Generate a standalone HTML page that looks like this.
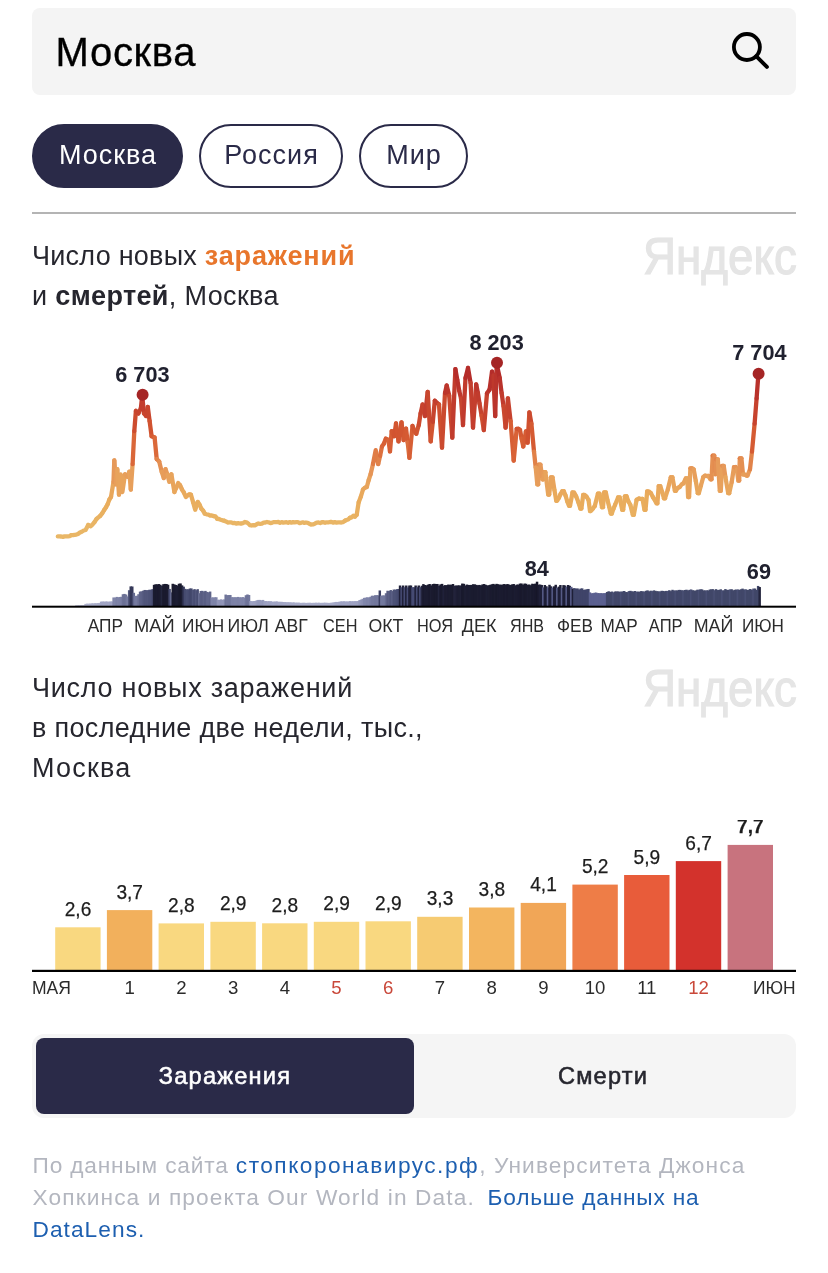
<!DOCTYPE html>
<html lang="ru"><head><meta charset="utf-8"><title>Коронавирус: Москва</title>
<style>
html,body{margin:0;padding:0;background:#fff;}
body{width:828px;height:1273px;position:relative;overflow:hidden;font-family:"Liberation Sans","DejaVu Sans",sans-serif;color:#1f2030;}
.abs{position:absolute;white-space:nowrap;}
.search{left:32px;top:8px;width:764px;height:87px;background:#f4f4f4;border-radius:8px;}
.search .q{left:23.5px;top:21px;font-size:40px;line-height:46px;color:#000;letter-spacing:0.7px;-webkit-text-stroke:0.3px #000;}
.pill{top:124px;height:59.5px;border:2px solid #2a2a48;border-radius:32px;font-size:27px;line-height:59px;text-align:center;color:#2a2a48;background:#fff;letter-spacing:1px;text-indent:1px;}
.pill.on{background:#2a2a48;color:#fff;}
.hr{left:32px;top:212px;width:764px;height:2px;background:#b4b4b4;}
.ttl{left:32px;font-size:27px;line-height:40px;color:#26262e;}
.logo{font-weight:400;color:#e5e5e5;font-size:52.3px;line-height:52px;transform-origin:0 0;transform:scaleX(0.875);-webkit-text-stroke:1.2px #e5e5e5;}
.seg{left:32px;top:1034px;width:764px;height:84px;background:#f5f5f5;border-radius:12px;}
.seg .on{left:4px;top:4px;width:378px;height:76px;background:#2a2a48;border-radius:8px;color:#fff;}
.seg .t{font-size:23.6px;line-height:76px;text-align:center;letter-spacing:1.2px;-webkit-text-stroke:0.55px currentColor;}
.foot{left:32.5px;top:1149.3px;font-size:22.7px;line-height:32px;color:#b3b6bf;letter-spacing:1.05px;}
.foot a{color:#1d5fb0;text-decoration:none;}
svg text{font-family:"Liberation Sans","DejaVu Sans",sans-serif;}
</style></head><body>
<div class="abs search"><div class="abs q">Москва</div>
<svg class="abs" style="left:688px;top:12px" width="64" height="64" viewBox="720 20 64 64"><circle cx="746.9" cy="47" r="13" fill="none" stroke="#000" stroke-width="3.8"/><path d="M756.4 56.4 L766.9 66.9" stroke="#000" stroke-width="3.9" stroke-linecap="round"/></svg>
</div>
<div class="abs pill on" style="left:32px;width:147px">Москва</div>
<div class="abs pill" style="left:199px;width:140px">Россия</div>
<div class="abs pill" style="left:359px;width:105px">Мир</div>
<div class="abs hr"></div>
<div class="abs ttl" style="top:236px"><span style="letter-spacing:0.25px">Число новых </span><b style="color:#e8762c;letter-spacing:0.85px">заражений</b><br><span style="letter-spacing:0.36px">и <b>смертей</b>, Москва</span></div>
<div class="abs logo" style="left:642.9px;top:229.5px">Яндекс</div>

<svg class="abs" style="left:0;top:320px" width="828" height="330" viewBox="0 320 828 330">
<defs><linearGradient id="lg" gradientUnits="userSpaceOnUse" x1="0" y1="362" x2="0" y2="540">
<stop offset="0" stop-color="#b02828"/><stop offset="0.12" stop-color="#b8312b"/><stop offset="0.24" stop-color="#c43f2e"/><stop offset="0.36" stop-color="#d0512f"/><stop offset="0.46" stop-color="#d96236"/><stop offset="0.53" stop-color="#e07c45"/><stop offset="0.6" stop-color="#e6975a"/><stop offset="0.72" stop-color="#e8a862"/><stop offset="0.88" stop-color="#e9b567"/><stop offset="1" stop-color="#e9b96b"/></linearGradient></defs>
<rect x="75.00" y="605.38" width="2.46" height="0.62" fill="#babdd5"/><rect x="76.56" y="605.29" width="2.46" height="0.71" fill="#b9bcd5"/><rect x="78.11" y="605.24" width="2.46" height="0.76" fill="#b9bcd5"/><rect x="79.67" y="605.15" width="2.46" height="0.85" fill="#b8bcd4"/><rect x="81.23" y="605.08" width="2.46" height="0.92" fill="#b8bbd4"/><rect x="82.78" y="605.06" width="2.46" height="0.94" fill="#b8bbd4"/><rect x="84.34" y="603.90" width="2.46" height="2.10" fill="#b0b3cf"/><rect x="85.90" y="603.63" width="2.46" height="2.37" fill="#aeb2cd"/><rect x="87.45" y="603.67" width="2.46" height="2.33" fill="#aeb2ce"/><rect x="89.01" y="603.59" width="2.46" height="2.41" fill="#aeb1cd"/><rect x="90.57" y="603.31" width="2.46" height="2.69" fill="#acb0cc"/><rect x="92.12" y="603.36" width="2.46" height="2.64" fill="#acb0cc"/><rect x="93.68" y="603.17" width="2.46" height="2.83" fill="#abafcb"/><rect x="95.24" y="603.18" width="2.46" height="2.82" fill="#abafcb"/><rect x="96.80" y="603.04" width="2.46" height="2.96" fill="#aaaecb"/><rect x="98.35" y="602.94" width="2.46" height="3.06" fill="#aaadca"/><rect x="99.91" y="601.63" width="2.46" height="4.37" fill="#a1a5c5"/><rect x="101.47" y="601.50" width="2.46" height="4.50" fill="#a0a4c4"/><rect x="103.02" y="601.63" width="2.46" height="4.37" fill="#a1a5c5"/><rect x="104.58" y="601.50" width="2.46" height="4.50" fill="#a0a4c4"/><rect x="106.14" y="601.51" width="2.46" height="4.49" fill="#a0a4c4"/><rect x="107.69" y="601.75" width="2.46" height="4.25" fill="#a2a6c5"/><rect x="109.25" y="601.42" width="2.46" height="4.58" fill="#9fa3c3"/><rect x="110.81" y="601.47" width="2.46" height="4.53" fill="#a0a4c4"/><rect x="112.36" y="597.46" width="2.46" height="8.54" fill="#8085a9"/><rect x="113.92" y="597.66" width="2.46" height="8.34" fill="#8186aa"/><rect x="115.48" y="596.90" width="2.46" height="9.10" fill="#7b80a5"/><rect x="117.03" y="597.21" width="2.46" height="8.79" fill="#7e83a7"/><rect x="118.59" y="596.96" width="2.46" height="9.04" fill="#7c81a6"/><rect x="120.15" y="596.79" width="2.46" height="9.21" fill="#7b80a5"/><rect x="121.70" y="594.25" width="2.46" height="11.75" fill="#6d7297"/><rect x="123.26" y="593.91" width="2.46" height="12.09" fill="#6b7095"/><rect x="124.82" y="594.52" width="2.46" height="11.48" fill="#6e7398"/><rect x="126.38" y="596.42" width="2.46" height="9.58" fill="#797ea3"/><rect x="127.93" y="590.22" width="2.46" height="15.78" fill="#52577c"/><rect x="129.49" y="586.38" width="2.46" height="19.62" fill="#343757"/><rect x="131.05" y="586.49" width="2.46" height="19.51" fill="#353859"/><rect x="132.60" y="592.81" width="2.46" height="13.19" fill="#656a8f"/><rect x="134.16" y="595.92" width="2.46" height="10.08" fill="#767ba0"/><rect x="135.72" y="595.77" width="2.46" height="10.23" fill="#757a9f"/><rect x="137.27" y="594.21" width="2.46" height="11.79" fill="#6d7297"/><rect x="138.83" y="591.59" width="2.46" height="14.41" fill="#5f6489"/><rect x="140.39" y="591.32" width="2.46" height="14.68" fill="#5c6186"/><rect x="141.94" y="590.70" width="2.46" height="15.30" fill="#575c81"/><rect x="143.50" y="589.96" width="2.46" height="16.04" fill="#50557a"/><rect x="145.06" y="590.12" width="2.46" height="15.88" fill="#51567b"/><rect x="146.61" y="590.15" width="2.46" height="15.85" fill="#51567b"/><rect x="148.17" y="589.74" width="2.46" height="16.26" fill="#4e5378"/><rect x="149.73" y="589.71" width="2.46" height="16.29" fill="#4d5277"/><rect x="151.28" y="589.16" width="2.46" height="16.84" fill="#484d72"/><rect x="152.84" y="584.81" width="2.46" height="21.19" fill="#1b1c30"/><rect x="154.40" y="584.26" width="2.46" height="21.74" fill="#1a1b2f"/><rect x="155.95" y="584.37" width="2.46" height="21.63" fill="#1a1b2f"/><rect x="157.51" y="584.05" width="2.46" height="21.95" fill="#1a1a2e"/><rect x="159.07" y="584.67" width="2.46" height="21.33" fill="#1b1c30"/><rect x="160.62" y="585.70" width="2.46" height="20.30" fill="#23253d"/><rect x="162.18" y="584.19" width="2.46" height="21.81" fill="#1a1b2e"/><rect x="163.74" y="583.93" width="2.46" height="22.07" fill="#191a2e"/><rect x="165.30" y="584.02" width="2.46" height="21.98" fill="#1a1a2e"/><rect x="166.85" y="584.69" width="2.46" height="21.31" fill="#1b1c30"/><rect x="168.41" y="588.94" width="2.46" height="17.06" fill="#464b70"/><rect x="169.97" y="592.40" width="2.46" height="13.60" fill="#63688d"/><rect x="171.52" y="583.79" width="2.46" height="22.21" fill="#191a2d"/><rect x="173.08" y="584.34" width="2.46" height="21.66" fill="#1a1b2f"/><rect x="174.64" y="584.96" width="2.46" height="21.04" fill="#1b1c31"/><rect x="176.19" y="585.44" width="2.46" height="20.56" fill="#1d1e33"/><rect x="177.75" y="583.74" width="2.46" height="22.26" fill="#191a2d"/><rect x="179.31" y="583.45" width="2.46" height="22.55" fill="#19192c"/><rect x="180.86" y="585.38" width="2.46" height="20.62" fill="#1c1d32"/><rect x="182.42" y="586.65" width="2.46" height="19.35" fill="#36395a"/><rect x="183.98" y="588.84" width="2.46" height="17.16" fill="#454a6f"/><rect x="185.53" y="589.38" width="2.46" height="16.62" fill="#4a4f74"/><rect x="187.09" y="589.23" width="2.46" height="16.77" fill="#494e73"/><rect x="188.65" y="588.51" width="2.46" height="17.49" fill="#42476c"/><rect x="190.20" y="588.44" width="2.46" height="17.56" fill="#42476b"/><rect x="191.76" y="589.96" width="2.46" height="16.04" fill="#50557a"/><rect x="193.32" y="589.12" width="2.46" height="16.88" fill="#484d72"/><rect x="194.88" y="590.18" width="2.46" height="15.82" fill="#52577c"/><rect x="196.43" y="589.18" width="2.46" height="16.82" fill="#484d72"/><rect x="197.99" y="593.22" width="2.46" height="12.78" fill="#676c91"/><rect x="199.55" y="590.95" width="2.46" height="15.05" fill="#595e83"/><rect x="201.10" y="590.84" width="2.46" height="15.16" fill="#585d82"/><rect x="202.66" y="591.56" width="2.46" height="14.44" fill="#5e6388"/><rect x="204.22" y="590.88" width="2.46" height="15.12" fill="#585d82"/><rect x="205.77" y="591.90" width="2.46" height="14.10" fill="#60658a"/><rect x="207.33" y="592.27" width="2.46" height="13.73" fill="#62678c"/><rect x="208.89" y="591.55" width="2.46" height="14.45" fill="#5e6388"/><rect x="210.44" y="597.47" width="2.46" height="8.53" fill="#8085a9"/><rect x="212.00" y="597.42" width="2.46" height="8.58" fill="#7f84a9"/><rect x="213.56" y="597.32" width="2.46" height="8.68" fill="#7f84a8"/><rect x="215.11" y="597.24" width="2.46" height="8.76" fill="#7e83a8"/><rect x="216.67" y="599.73" width="2.46" height="6.27" fill="#9296b8"/><rect x="218.23" y="599.84" width="2.46" height="6.16" fill="#9397b9"/><rect x="219.78" y="599.35" width="2.46" height="6.65" fill="#8f93b6"/><rect x="221.34" y="599.75" width="2.46" height="6.25" fill="#9296b8"/><rect x="222.90" y="599.39" width="2.46" height="6.61" fill="#8f94b6"/><rect x="224.45" y="594.56" width="2.46" height="11.44" fill="#6f7499"/><rect x="226.01" y="595.13" width="2.46" height="10.87" fill="#72779c"/><rect x="227.57" y="595.04" width="2.46" height="10.96" fill="#71769b"/><rect x="229.12" y="594.98" width="2.46" height="11.02" fill="#71769b"/><rect x="230.68" y="597.17" width="2.46" height="8.83" fill="#7d82a7"/><rect x="232.24" y="597.22" width="2.46" height="8.78" fill="#7e83a7"/><rect x="233.80" y="597.25" width="2.46" height="8.75" fill="#7e83a8"/><rect x="235.35" y="597.20" width="2.46" height="8.80" fill="#7e83a7"/><rect x="236.91" y="596.92" width="2.46" height="9.08" fill="#7c81a6"/><rect x="238.47" y="597.29" width="2.46" height="8.71" fill="#7e83a8"/><rect x="240.02" y="597.36" width="2.46" height="8.64" fill="#7f84a8"/><rect x="241.58" y="597.11" width="2.46" height="8.89" fill="#7d82a7"/><rect x="243.14" y="597.53" width="2.46" height="8.47" fill="#8085aa"/><rect x="244.69" y="595.22" width="2.46" height="10.78" fill="#72779c"/><rect x="246.25" y="594.47" width="2.46" height="11.53" fill="#6e7398"/><rect x="247.81" y="594.98" width="2.46" height="11.02" fill="#71769b"/><rect x="249.36" y="600.98" width="2.46" height="5.02" fill="#9ca0c1"/><rect x="250.92" y="601.24" width="2.46" height="4.76" fill="#9ea2c2"/><rect x="252.48" y="601.04" width="2.46" height="4.96" fill="#9ca0c1"/><rect x="254.03" y="600.96" width="2.46" height="5.04" fill="#9ca0c0"/><rect x="255.59" y="600.29" width="2.46" height="5.71" fill="#969bbc"/><rect x="257.15" y="599.93" width="2.46" height="6.07" fill="#9398ba"/><rect x="258.70" y="599.92" width="2.46" height="6.08" fill="#9398b9"/><rect x="260.26" y="600.26" width="2.46" height="5.74" fill="#969abc"/><rect x="261.82" y="599.92" width="2.46" height="6.08" fill="#9398b9"/><rect x="263.38" y="601.05" width="2.46" height="4.95" fill="#9ca1c1"/><rect x="264.93" y="601.02" width="2.46" height="4.98" fill="#9ca0c1"/><rect x="266.49" y="601.25" width="2.46" height="4.75" fill="#9ea2c2"/><rect x="268.05" y="601.15" width="2.46" height="4.85" fill="#9da1c2"/><rect x="269.60" y="601.21" width="2.46" height="4.79" fill="#9ea2c2"/><rect x="271.16" y="601.62" width="2.46" height="4.38" fill="#a1a5c5"/><rect x="272.72" y="601.67" width="2.46" height="4.33" fill="#a1a5c5"/><rect x="274.27" y="601.47" width="2.46" height="4.53" fill="#a0a4c4"/><rect x="275.83" y="601.43" width="2.46" height="4.57" fill="#9fa3c4"/><rect x="277.39" y="601.82" width="2.46" height="4.18" fill="#a2a6c5"/><rect x="278.94" y="601.80" width="2.46" height="4.20" fill="#a2a6c5"/><rect x="280.50" y="601.83" width="2.46" height="4.17" fill="#a2a6c5"/><rect x="282.06" y="602.01" width="2.46" height="3.99" fill="#a3a7c6"/><rect x="283.61" y="602.07" width="2.46" height="3.93" fill="#a4a8c7"/><rect x="285.17" y="602.17" width="2.46" height="3.83" fill="#a4a8c7"/><rect x="286.73" y="602.23" width="2.46" height="3.77" fill="#a5a9c7"/><rect x="288.28" y="602.22" width="2.46" height="3.78" fill="#a5a9c7"/><rect x="289.84" y="602.40" width="2.46" height="3.60" fill="#a6aac8"/><rect x="291.40" y="602.45" width="2.46" height="3.55" fill="#a6aac8"/><rect x="292.95" y="602.39" width="2.46" height="3.61" fill="#a6aac8"/><rect x="294.51" y="602.73" width="2.46" height="3.27" fill="#a8acc9"/><rect x="296.07" y="602.62" width="2.46" height="3.38" fill="#a7abc9"/><rect x="297.62" y="602.64" width="2.46" height="3.36" fill="#a8abc9"/><rect x="299.18" y="602.86" width="2.46" height="3.14" fill="#a9adca"/><rect x="300.74" y="602.89" width="2.46" height="3.11" fill="#a9adca"/><rect x="302.30" y="602.70" width="2.46" height="3.30" fill="#a8acc9"/><rect x="303.85" y="602.88" width="2.46" height="3.12" fill="#a9adca"/><rect x="305.41" y="602.90" width="2.46" height="3.10" fill="#a9adca"/><rect x="306.97" y="602.82" width="2.46" height="3.18" fill="#a9adca"/><rect x="308.52" y="602.74" width="2.46" height="3.26" fill="#a8acc9"/><rect x="310.08" y="602.93" width="2.46" height="3.07" fill="#aaadca"/><rect x="311.64" y="602.86" width="2.46" height="3.14" fill="#a9adca"/><rect x="313.19" y="602.85" width="2.46" height="3.15" fill="#a9adca"/><rect x="314.75" y="602.69" width="2.46" height="3.31" fill="#a8acc9"/><rect x="316.31" y="602.82" width="2.46" height="3.18" fill="#a9adca"/><rect x="317.86" y="602.69" width="2.46" height="3.31" fill="#a8acc9"/><rect x="319.42" y="602.91" width="2.46" height="3.09" fill="#a9adca"/><rect x="320.98" y="602.85" width="2.46" height="3.15" fill="#a9adca"/><rect x="322.53" y="602.75" width="2.46" height="3.25" fill="#a8acca"/><rect x="324.09" y="602.68" width="2.46" height="3.32" fill="#a8acc9"/><rect x="325.65" y="602.82" width="2.46" height="3.18" fill="#a9acca"/><rect x="327.20" y="602.89" width="2.46" height="3.11" fill="#a9adca"/><rect x="328.76" y="602.92" width="2.46" height="3.08" fill="#a9adca"/><rect x="330.32" y="602.65" width="2.46" height="3.35" fill="#a8abc9"/><rect x="331.88" y="602.56" width="2.46" height="3.44" fill="#a7abc9"/><rect x="333.43" y="602.14" width="2.46" height="3.86" fill="#a4a8c7"/><rect x="334.99" y="601.92" width="2.46" height="4.08" fill="#a3a7c6"/><rect x="336.55" y="601.98" width="2.46" height="4.02" fill="#a3a7c6"/><rect x="338.10" y="601.74" width="2.46" height="4.26" fill="#a2a6c5"/><rect x="339.66" y="601.35" width="2.46" height="4.65" fill="#9fa3c3"/><rect x="341.22" y="601.38" width="2.46" height="4.62" fill="#9fa3c3"/><rect x="342.77" y="601.26" width="2.46" height="4.74" fill="#9ea2c2"/><rect x="344.33" y="601.43" width="2.46" height="4.57" fill="#9fa3c4"/><rect x="345.89" y="601.49" width="2.46" height="4.51" fill="#a0a4c4"/><rect x="347.44" y="601.37" width="2.46" height="4.63" fill="#9fa3c3"/><rect x="349.00" y="601.09" width="2.46" height="4.91" fill="#9da1c1"/><rect x="350.56" y="601.30" width="2.46" height="4.70" fill="#9ea2c3"/><rect x="352.11" y="601.22" width="2.46" height="4.78" fill="#9ea2c2"/><rect x="353.67" y="601.14" width="2.46" height="4.86" fill="#9da1c2"/><rect x="355.23" y="601.10" width="2.46" height="4.90" fill="#9da1c1"/><rect x="356.78" y="601.06" width="2.46" height="4.94" fill="#9ca1c1"/><rect x="358.34" y="600.06" width="2.46" height="5.94" fill="#9499ba"/><rect x="359.90" y="599.56" width="2.46" height="6.44" fill="#9095b7"/><rect x="361.45" y="598.83" width="2.46" height="7.17" fill="#8b8fb2"/><rect x="363.01" y="597.86" width="2.46" height="8.14" fill="#8388ac"/><rect x="364.57" y="597.64" width="2.46" height="8.36" fill="#8186aa"/><rect x="366.12" y="597.28" width="2.46" height="8.72" fill="#7e83a8"/><rect x="367.68" y="597.48" width="2.46" height="8.52" fill="#8085a9"/><rect x="369.24" y="596.77" width="2.46" height="9.23" fill="#7b80a5"/><rect x="370.80" y="595.72" width="2.46" height="10.28" fill="#757a9f"/><rect x="372.35" y="595.79" width="2.46" height="10.21" fill="#757a9f"/><rect x="373.91" y="595.24" width="2.46" height="10.76" fill="#72779c"/><rect x="375.47" y="595.15" width="2.46" height="10.85" fill="#72779c"/><rect x="377.02" y="595.33" width="2.46" height="10.67" fill="#73789d"/><rect x="378.58" y="590.47" width="2.46" height="15.53" fill="#3c4064"/><rect x="380.14" y="595.66" width="2.46" height="10.34" fill="#757a9f"/><rect x="381.69" y="595.44" width="2.46" height="10.56" fill="#73789d"/><rect x="383.25" y="595.40" width="2.46" height="10.60" fill="#73789d"/><rect x="384.81" y="593.24" width="2.46" height="12.76" fill="#676c91"/><rect x="386.36" y="590.74" width="2.46" height="15.26" fill="#575c81"/><rect x="387.92" y="591.03" width="2.46" height="14.97" fill="#5a5f84"/><rect x="389.48" y="590.06" width="2.46" height="15.94" fill="#51567b"/><rect x="391.03" y="591.08" width="2.46" height="14.92" fill="#5a5f84"/><rect x="392.59" y="589.56" width="2.46" height="16.44" fill="#4c5176"/><rect x="394.15" y="589.72" width="2.46" height="16.28" fill="#4d5277"/><rect x="395.70" y="589.18" width="2.46" height="16.82" fill="#484d72"/><rect x="397.26" y="588.96" width="2.46" height="17.04" fill="#464b70"/><rect x="398.82" y="585.50" width="2.46" height="20.50" fill="#1f2038"/><rect x="400.38" y="587.24" width="2.46" height="18.76" fill="#454a72"/><rect x="401.93" y="585.50" width="2.46" height="20.50" fill="#1f2038"/><rect x="403.49" y="587.20" width="2.46" height="18.80" fill="#454a72"/><rect x="405.05" y="585.50" width="2.46" height="20.50" fill="#1f2038"/><rect x="406.60" y="587.42" width="2.46" height="18.58" fill="#454a72"/><rect x="408.16" y="585.50" width="2.46" height="20.50" fill="#1f2038"/><rect x="409.72" y="585.50" width="2.46" height="20.50" fill="#1f2038"/><rect x="411.27" y="587.20" width="2.46" height="18.80" fill="#454a72"/><rect x="412.83" y="587.20" width="2.46" height="18.80" fill="#454a72"/><rect x="414.39" y="585.50" width="2.46" height="20.50" fill="#1f2038"/><rect x="415.94" y="587.20" width="2.46" height="18.80" fill="#454a72"/><rect x="417.50" y="585.50" width="2.46" height="20.50" fill="#1f2038"/><rect x="419.06" y="587.20" width="2.46" height="18.80" fill="#454a72"/><rect x="420.61" y="585.72" width="2.46" height="20.28" fill="#24253e"/><rect x="422.17" y="584.10" width="2.46" height="21.90" fill="#1a1a2e"/><rect x="423.73" y="585.01" width="2.46" height="20.99" fill="#1b1c31"/><rect x="425.28" y="585.33" width="2.46" height="20.67" fill="#1c1d32"/><rect x="426.84" y="584.61" width="2.46" height="21.39" fill="#1b1b30"/><rect x="428.40" y="584.00" width="2.46" height="22.00" fill="#1a1a2e"/><rect x="429.95" y="585.38" width="2.46" height="20.62" fill="#1c1d32"/><rect x="431.51" y="584.05" width="2.46" height="21.95" fill="#1a1a2e"/><rect x="433.07" y="583.77" width="2.46" height="22.23" fill="#191a2d"/><rect x="434.62" y="584.01" width="2.46" height="21.99" fill="#1a1a2e"/><rect x="436.18" y="583.97" width="2.46" height="22.03" fill="#191a2e"/><rect x="437.74" y="585.70" width="2.46" height="20.30" fill="#23253e"/><rect x="439.30" y="584.37" width="2.46" height="21.63" fill="#1a1b2f"/><rect x="440.85" y="583.87" width="2.46" height="22.13" fill="#191a2e"/><rect x="442.41" y="585.60" width="2.46" height="20.40" fill="#21223a"/><rect x="443.97" y="585.12" width="2.46" height="20.88" fill="#1c1c31"/><rect x="445.52" y="585.13" width="2.46" height="20.87" fill="#1c1c31"/><rect x="447.08" y="584.57" width="2.46" height="21.43" fill="#1b1b30"/><rect x="448.64" y="584.79" width="2.46" height="21.21" fill="#1b1c30"/><rect x="450.19" y="584.68" width="2.46" height="21.32" fill="#1b1c30"/><rect x="451.75" y="584.02" width="2.46" height="21.98" fill="#1a1a2e"/><rect x="453.31" y="585.68" width="2.46" height="20.32" fill="#23243c"/><rect x="454.86" y="585.56" width="2.46" height="20.44" fill="#202138"/><rect x="456.42" y="585.40" width="2.46" height="20.60" fill="#1c1d32"/><rect x="457.98" y="585.40" width="2.46" height="20.60" fill="#1c1d32"/><rect x="459.53" y="585.52" width="2.46" height="20.48" fill="#1f2036"/><rect x="461.09" y="583.57" width="2.46" height="22.43" fill="#19192d"/><rect x="462.65" y="583.82" width="2.46" height="22.18" fill="#191a2d"/><rect x="464.20" y="585.47" width="2.46" height="20.53" fill="#1e1f35"/><rect x="465.76" y="584.57" width="2.46" height="21.43" fill="#1b1b30"/><rect x="467.32" y="584.97" width="2.46" height="21.03" fill="#1b1c31"/><rect x="468.88" y="584.96" width="2.46" height="21.04" fill="#1b1c31"/><rect x="470.43" y="584.88" width="2.46" height="21.12" fill="#1b1c30"/><rect x="471.99" y="584.24" width="2.46" height="21.76" fill="#1a1b2f"/><rect x="473.55" y="584.37" width="2.46" height="21.63" fill="#1a1b2f"/><rect x="475.10" y="584.85" width="2.46" height="21.15" fill="#1b1c30"/><rect x="476.66" y="585.21" width="2.46" height="20.79" fill="#1c1d31"/><rect x="478.22" y="584.91" width="2.46" height="21.09" fill="#1b1c31"/><rect x="479.77" y="585.34" width="2.46" height="20.66" fill="#1c1d32"/><rect x="481.33" y="584.41" width="2.46" height="21.59" fill="#1a1b2f"/><rect x="482.89" y="584.06" width="2.46" height="21.94" fill="#1a1a2e"/><rect x="484.44" y="584.78" width="2.46" height="21.22" fill="#1b1c30"/><rect x="486.00" y="585.42" width="2.46" height="20.58" fill="#1c1e33"/><rect x="487.56" y="585.20" width="2.46" height="20.80" fill="#1c1d31"/><rect x="489.11" y="584.78" width="2.46" height="21.22" fill="#1b1c30"/><rect x="490.67" y="584.28" width="2.46" height="21.72" fill="#1a1b2f"/><rect x="492.23" y="583.89" width="2.46" height="22.11" fill="#191a2e"/><rect x="493.78" y="584.75" width="2.46" height="21.25" fill="#1b1c30"/><rect x="495.34" y="583.84" width="2.46" height="22.16" fill="#191a2d"/><rect x="496.90" y="584.22" width="2.46" height="21.78" fill="#1a1b2f"/><rect x="498.45" y="584.63" width="2.46" height="21.37" fill="#1b1b30"/><rect x="500.01" y="584.75" width="2.46" height="21.25" fill="#1b1c30"/><rect x="501.57" y="584.48" width="2.46" height="21.52" fill="#1a1b2f"/><rect x="503.12" y="584.03" width="2.46" height="21.97" fill="#1a1a2e"/><rect x="504.68" y="584.64" width="2.46" height="21.36" fill="#1b1b30"/><rect x="506.24" y="584.04" width="2.46" height="21.96" fill="#1a1a2e"/><rect x="507.80" y="584.54" width="2.46" height="21.46" fill="#1a1b2f"/><rect x="509.35" y="585.00" width="2.46" height="21.00" fill="#1b1c31"/><rect x="510.91" y="584.37" width="2.46" height="21.63" fill="#1a1b2f"/><rect x="512.47" y="584.02" width="2.46" height="21.98" fill="#1a1a2e"/><rect x="514.02" y="585.36" width="2.46" height="20.64" fill="#1c1d32"/><rect x="515.58" y="584.60" width="2.46" height="21.40" fill="#1b1b30"/><rect x="517.14" y="584.59" width="2.46" height="21.41" fill="#1b1b30"/><rect x="518.69" y="583.61" width="2.46" height="22.39" fill="#19192d"/><rect x="520.25" y="583.48" width="2.46" height="22.52" fill="#19192c"/><rect x="521.81" y="584.69" width="2.46" height="21.31" fill="#1b1c30"/><rect x="523.36" y="583.55" width="2.46" height="22.45" fill="#19192d"/><rect x="524.92" y="583.78" width="2.46" height="22.22" fill="#191a2d"/><rect x="526.48" y="584.92" width="2.46" height="21.08" fill="#1b1c31"/><rect x="528.03" y="584.48" width="2.46" height="21.52" fill="#1a1b2f"/><rect x="529.59" y="585.21" width="2.46" height="20.79" fill="#1c1d31"/><rect x="531.15" y="583.72" width="2.46" height="22.28" fill="#191a2d"/><rect x="532.70" y="584.05" width="2.46" height="21.95" fill="#1a1a2e"/><rect x="534.26" y="583.56" width="2.46" height="22.44" fill="#19192d"/><rect x="535.82" y="581.71" width="2.46" height="24.29" fill="#161628"/><rect x="537.38" y="584.65" width="2.46" height="21.35" fill="#1b1b30"/><rect x="538.93" y="584.56" width="2.46" height="21.44" fill="#1e1f37"/><rect x="540.49" y="584.97" width="2.46" height="21.03" fill="#1e1f37"/><rect x="542.05" y="587.38" width="2.46" height="18.62" fill="#565b86"/><rect x="543.60" y="585.02" width="2.46" height="20.98" fill="#1e1f37"/><rect x="545.16" y="586.28" width="2.46" height="19.72" fill="#1e1f37"/><rect x="546.72" y="587.44" width="2.46" height="18.56" fill="#565b86"/><rect x="548.27" y="584.79" width="2.46" height="21.21" fill="#1e1f37"/><rect x="549.83" y="586.34" width="2.46" height="19.66" fill="#1e1f37"/><rect x="551.39" y="587.67" width="2.46" height="18.33" fill="#565b86"/><rect x="552.94" y="586.32" width="2.46" height="19.68" fill="#1e1f37"/><rect x="554.50" y="584.77" width="2.46" height="21.23" fill="#1e1f37"/><rect x="556.06" y="587.64" width="2.46" height="18.36" fill="#565b86"/><rect x="557.61" y="586.62" width="2.46" height="19.38" fill="#1e1f37"/><rect x="559.17" y="585.01" width="2.46" height="20.99" fill="#1e1f37"/><rect x="560.73" y="587.87" width="2.46" height="18.13" fill="#565b86"/><rect x="562.28" y="585.09" width="2.46" height="20.91" fill="#1e1f37"/><rect x="563.84" y="585.48" width="2.46" height="20.52" fill="#1e1f37"/><rect x="565.40" y="586.65" width="2.46" height="19.35" fill="#565b86"/><rect x="566.95" y="585.00" width="2.46" height="21.00" fill="#1e1f37"/><rect x="568.51" y="585.79" width="2.46" height="20.21" fill="#1e1f37"/><rect x="570.07" y="586.84" width="2.46" height="19.16" fill="#565b86"/><rect x="571.62" y="588.60" width="2.46" height="17.40" fill="#1e1f37"/><rect x="573.18" y="588.10" width="2.46" height="17.90" fill="#3f4469"/><rect x="574.74" y="588.66" width="2.46" height="17.34" fill="#3f4469"/><rect x="576.30" y="588.42" width="2.46" height="17.58" fill="#3f4469"/><rect x="577.85" y="589.57" width="2.46" height="16.43" fill="#3f4469"/><rect x="579.41" y="588.59" width="2.46" height="17.41" fill="#3f4469"/><rect x="580.97" y="588.38" width="2.46" height="17.62" fill="#3f4469"/><rect x="582.52" y="589.94" width="2.46" height="16.06" fill="#3f4469"/><rect x="584.08" y="589.60" width="2.46" height="16.40" fill="#3f4469"/><rect x="585.64" y="589.29" width="2.46" height="16.71" fill="#3f4469"/><rect x="587.19" y="588.96" width="2.46" height="17.04" fill="#3f4469"/><rect x="588.75" y="592.38" width="2.46" height="13.62" fill="#5b6090"/><rect x="590.31" y="593.25" width="2.46" height="12.75" fill="#5b6090"/><rect x="591.86" y="593.19" width="2.46" height="12.81" fill="#5b6090"/><rect x="593.42" y="592.74" width="2.46" height="13.26" fill="#5b6090"/><rect x="594.98" y="592.59" width="2.46" height="13.41" fill="#5b6090"/><rect x="596.53" y="593.10" width="2.46" height="12.90" fill="#5b6090"/><rect x="598.09" y="593.16" width="2.46" height="12.84" fill="#5b6090"/><rect x="599.65" y="593.16" width="2.46" height="12.84" fill="#5b6090"/><rect x="601.20" y="593.25" width="2.46" height="12.75" fill="#5b6090"/><rect x="602.76" y="593.20" width="2.46" height="12.80" fill="#5b6090"/><rect x="604.32" y="593.06" width="2.46" height="12.94" fill="#5b6090"/><rect x="605.88" y="591.98" width="2.46" height="14.02" fill="#414769"/><rect x="607.43" y="591.28" width="2.46" height="14.72" fill="#414769"/><rect x="608.99" y="592.03" width="2.46" height="13.97" fill="#414769"/><rect x="610.55" y="591.53" width="2.46" height="14.47" fill="#414769"/><rect x="612.10" y="592.32" width="2.46" height="13.68" fill="#494f74"/><rect x="613.66" y="591.53" width="2.46" height="14.47" fill="#414769"/><rect x="615.22" y="591.40" width="2.46" height="14.60" fill="#414769"/><rect x="616.77" y="591.48" width="2.46" height="14.52" fill="#414769"/><rect x="618.33" y="591.67" width="2.46" height="14.33" fill="#414769"/><rect x="619.89" y="591.68" width="2.46" height="14.32" fill="#494f74"/><rect x="621.44" y="591.41" width="2.46" height="14.59" fill="#414769"/><rect x="623.00" y="591.01" width="2.46" height="14.99" fill="#414769"/><rect x="624.56" y="592.05" width="2.46" height="13.95" fill="#414769"/><rect x="626.11" y="592.09" width="2.46" height="13.91" fill="#414769"/><rect x="627.67" y="591.11" width="2.46" height="14.89" fill="#494f74"/><rect x="629.23" y="590.83" width="2.46" height="15.17" fill="#414769"/><rect x="630.78" y="591.37" width="2.46" height="14.63" fill="#414769"/><rect x="632.34" y="591.45" width="2.46" height="14.55" fill="#414769"/><rect x="633.90" y="591.00" width="2.46" height="15.00" fill="#414769"/><rect x="635.45" y="591.75" width="2.46" height="14.25" fill="#494f74"/><rect x="637.01" y="591.60" width="2.46" height="14.40" fill="#414769"/><rect x="638.57" y="591.66" width="2.46" height="14.34" fill="#414769"/><rect x="640.12" y="591.06" width="2.46" height="14.94" fill="#414769"/><rect x="641.68" y="591.43" width="2.46" height="14.57" fill="#414769"/><rect x="643.24" y="591.52" width="2.46" height="14.48" fill="#494f74"/><rect x="644.80" y="590.80" width="2.46" height="15.20" fill="#414769"/><rect x="646.35" y="590.38" width="2.46" height="15.62" fill="#414769"/><rect x="647.91" y="591.33" width="2.46" height="14.67" fill="#414769"/><rect x="649.47" y="590.69" width="2.46" height="15.31" fill="#414769"/><rect x="651.02" y="591.09" width="2.46" height="14.91" fill="#494f74"/><rect x="652.58" y="590.40" width="2.46" height="15.60" fill="#414769"/><rect x="654.14" y="590.77" width="2.46" height="15.23" fill="#414769"/><rect x="655.69" y="591.22" width="2.46" height="14.78" fill="#414769"/><rect x="657.25" y="591.27" width="2.46" height="14.73" fill="#414769"/><rect x="658.81" y="591.53" width="2.46" height="14.47" fill="#494f74"/><rect x="660.36" y="590.81" width="2.46" height="15.19" fill="#414769"/><rect x="661.92" y="590.92" width="2.46" height="15.08" fill="#414769"/><rect x="663.48" y="591.22" width="2.46" height="14.78" fill="#414769"/><rect x="665.03" y="590.90" width="2.46" height="15.10" fill="#414769"/><rect x="666.59" y="590.93" width="2.46" height="15.07" fill="#494f74"/><rect x="668.15" y="590.20" width="2.46" height="15.80" fill="#414769"/><rect x="669.70" y="591.14" width="2.46" height="14.86" fill="#414769"/><rect x="671.26" y="589.80" width="2.46" height="16.20" fill="#414769"/><rect x="672.82" y="590.56" width="2.46" height="15.44" fill="#414769"/><rect x="674.38" y="590.34" width="2.46" height="15.66" fill="#494f74"/><rect x="675.93" y="590.52" width="2.46" height="15.48" fill="#414769"/><rect x="677.49" y="589.91" width="2.46" height="16.09" fill="#414769"/><rect x="679.05" y="589.90" width="2.46" height="16.10" fill="#414769"/><rect x="680.60" y="590.28" width="2.46" height="15.72" fill="#414769"/><rect x="682.16" y="590.37" width="2.46" height="15.63" fill="#494f74"/><rect x="683.72" y="589.96" width="2.46" height="16.04" fill="#414769"/><rect x="685.27" y="589.72" width="2.46" height="16.28" fill="#414769"/><rect x="686.83" y="590.40" width="2.46" height="15.60" fill="#414769"/><rect x="688.39" y="589.85" width="2.46" height="16.15" fill="#414769"/><rect x="689.94" y="589.46" width="2.46" height="16.54" fill="#494f74"/><rect x="691.50" y="590.21" width="2.46" height="15.79" fill="#414769"/><rect x="693.06" y="590.55" width="2.46" height="15.45" fill="#414769"/><rect x="694.61" y="590.51" width="2.46" height="15.49" fill="#414769"/><rect x="696.17" y="589.71" width="2.46" height="16.29" fill="#414769"/><rect x="697.73" y="589.75" width="2.46" height="16.25" fill="#494f74"/><rect x="699.28" y="589.27" width="2.46" height="16.73" fill="#414769"/><rect x="700.84" y="589.41" width="2.46" height="16.59" fill="#414769"/><rect x="702.40" y="590.37" width="2.46" height="15.63" fill="#414769"/><rect x="703.95" y="590.43" width="2.46" height="15.57" fill="#414769"/><rect x="705.51" y="590.29" width="2.46" height="15.71" fill="#494f74"/><rect x="707.07" y="590.39" width="2.46" height="15.61" fill="#414769"/><rect x="708.62" y="589.53" width="2.46" height="16.47" fill="#414769"/><rect x="710.18" y="589.26" width="2.46" height="16.74" fill="#414769"/><rect x="711.74" y="589.17" width="2.46" height="16.83" fill="#414769"/><rect x="713.30" y="590.19" width="2.46" height="15.81" fill="#494f74"/><rect x="714.85" y="589.17" width="2.46" height="16.83" fill="#414769"/><rect x="716.41" y="590.05" width="2.46" height="15.95" fill="#414769"/><rect x="717.97" y="589.84" width="2.46" height="16.16" fill="#414769"/><rect x="719.52" y="589.32" width="2.46" height="16.68" fill="#414769"/><rect x="721.08" y="590.35" width="2.46" height="15.65" fill="#494f74"/><rect x="722.64" y="590.31" width="2.46" height="15.69" fill="#414769"/><rect x="724.19" y="589.08" width="2.46" height="16.92" fill="#414769"/><rect x="725.75" y="589.94" width="2.46" height="16.06" fill="#414769"/><rect x="727.31" y="589.81" width="2.46" height="16.19" fill="#414769"/><rect x="728.86" y="589.42" width="2.46" height="16.58" fill="#494f74"/><rect x="730.42" y="589.24" width="2.46" height="16.76" fill="#414769"/><rect x="731.98" y="590.32" width="2.46" height="15.68" fill="#414769"/><rect x="733.53" y="589.76" width="2.46" height="16.24" fill="#414769"/><rect x="735.09" y="589.57" width="2.46" height="16.43" fill="#414769"/><rect x="736.65" y="589.46" width="2.46" height="16.54" fill="#494f74"/><rect x="738.20" y="589.90" width="2.46" height="16.10" fill="#414769"/><rect x="739.76" y="589.25" width="2.46" height="16.75" fill="#414769"/><rect x="741.32" y="588.62" width="2.46" height="17.38" fill="#414769"/><rect x="742.88" y="589.54" width="2.46" height="16.46" fill="#414769"/><rect x="744.43" y="589.26" width="2.46" height="16.74" fill="#494f74"/><rect x="745.99" y="589.96" width="2.46" height="16.04" fill="#414769"/><rect x="747.55" y="589.68" width="2.46" height="16.32" fill="#414769"/><rect x="749.10" y="589.01" width="2.46" height="16.99" fill="#414769"/><rect x="750.66" y="589.91" width="2.46" height="16.09" fill="#414769"/><rect x="752.22" y="588.60" width="2.46" height="17.40" fill="#494f74"/><rect x="753.77" y="588.54" width="2.46" height="17.46" fill="#414769"/><rect x="755.33" y="589.89" width="2.46" height="16.11" fill="#414769"/><rect x="756.89" y="585.95" width="2.46" height="20.05" fill="#414769"/><rect x="758.44" y="587.04" width="2.46" height="18.96" fill="#23243c"/>
<rect x="32" y="605.7" width="764" height="2" fill="#000"/>
<g fill="none" stroke-width="4.3" stroke-linejoin="round" stroke-linecap="round"><path d="M57.8 536.4 L59.5 536.3 L61.2 536.5 L62.9 536.9 L64.5 536.4 L66.2 536.4 L67.9 536.4 L69.6 536.1 L71.3 535.2" stroke="#e9b767"/><path d="M71.3 535.2 L73.0 535.2 L74.6 534.9 L76.3 534.6 L78.0 533.9 L79.9 532.5 L81.8 531.7 L83.7 530.5 L85.6 530.0 L88.2 525.0" stroke="#e9b666"/><path d="M88.2 525.0 L90.7 526.3 L92.6 524.4 L94.5 522.1" stroke="#e9b565"/><path d="M94.5 522.1 L96.4 519.1" stroke="#e9b464"/><path d="M96.4 519.1 L98.3 517.4 L100.2 515.9" stroke="#e9b363"/><path d="M100.2 515.9 L102.2 513.3" stroke="#e9b262"/><path d="M102.2 513.3 L104.1 510.1" stroke="#e9b161"/><path d="M104.1 510.1 L106.0 507.2" stroke="#e9af5f"/><path d="M106.0 507.2 L107.7 504.1" stroke="#e9ae5e"/><path d="M107.7 504.1 L109.3 499.6" stroke="#e9ad5d"/><path d="M109.3 499.6 L111.0 497.0" stroke="#e9ab5c"/><path d="M111.0 497.0 L113.5 481.9" stroke="#e8a75c"/><path d="M113.5 481.9 L114.3 460.3" stroke="#e69858"/><path d="M114.3 460.3 L116.0 484.4" stroke="#e69959"/><path d="M116.0 484.4 L117.3 469.2" stroke="#e89f5b"/><path d="M117.3 469.2 L119.0 494.6" stroke="#e8a35c"/><path d="M119.0 494.6 L120.6 474.3 L122.4 492.0 L125.0 474.3" stroke="#e8a45c"/><path d="M125.0 474.3 L127.5 476.8" stroke="#e79f5b"/><path d="M127.5 476.8 L129.3 471.7" stroke="#e79d5a"/><path d="M129.3 471.7 L130.8 489.5" stroke="#e8a35c"/><path d="M130.8 489.5 L132.6 464.1" stroke="#e79f5b"/><path d="M132.6 464.1 L134.3 431.2" stroke="#da6739"/><path d="M134.3 431.2 L135.9 410.9" stroke="#cd4c2f"/><path d="M135.9 410.9 L138.4 413.4" stroke="#c8452e"/><path d="M138.4 413.4 L140.9 408.3" stroke="#c7442e"/><path d="M140.9 408.3 L142.2 395.6" stroke="#c23d2e"/><path d="M142.2 395.6 L144.0 413.4" stroke="#c33e2e"/><path d="M144.0 413.4 L146.0 416.0" stroke="#ca472e"/><path d="M146.0 416.0 L147.8 407.0" stroke="#c8442e"/><path d="M147.8 407.0 L149.6 421.0" stroke="#c9462e"/><path d="M149.6 421.0 L151.6 436.2" stroke="#d15330"/><path d="M151.6 436.2 L154.6 437.5" stroke="#d65b33"/><path d="M154.6 437.5 L156.7 459.0" stroke="#db693a"/><path d="M156.7 459.0 L159.2 461.6" stroke="#e2844b"/><path d="M159.2 461.6 L161.7 471.7" stroke="#e49053"/><path d="M161.7 471.7 L163.8 478.0" stroke="#e79e5a"/><path d="M163.8 478.0 L165.5 469.2" stroke="#e79c5a"/><path d="M165.5 469.2 L167.4 474.5" stroke="#e79a59"/><path d="M167.4 474.5 L169.3 481.9 L171.4 474.3" stroke="#e8a25c"/><path d="M171.4 474.3 L174.4 492.0" stroke="#e8a45c"/><path d="M174.4 492.0 L176.3 487.6" stroke="#e9a75c"/><path d="M176.3 487.6 L178.2 483.0 L180.1 485.3" stroke="#e8a55c"/><path d="M180.1 485.3 L182.0 489.5" stroke="#e8a65c"/><path d="M182.0 489.5 L183.9 492.6" stroke="#e9a85c"/><path d="M183.9 492.6 L185.8 497.0 L187.5 495.6 L189.2 494.4" stroke="#e9aa5c"/><path d="M189.2 494.4 L190.9 494.6" stroke="#e9a95c"/><path d="M190.9 494.6 L193.1 502.1" stroke="#e9ab5c"/><path d="M193.1 502.1 L195.2 509.8 L197.8 502.0" stroke="#e9ae5e"/><path d="M197.8 502.0 L199.6 504.8" stroke="#e9ad5d"/><path d="M199.6 504.8 L201.3 508.6" stroke="#e9af5f"/><path d="M201.3 508.6 L203.1 510.7" stroke="#e9b060"/><path d="M203.1 510.7 L204.8 513.6" stroke="#e9b161"/><path d="M204.8 513.6 L206.6 514.4 L208.4 514.6 L210.1 515.5 L211.9 515.5 L213.7 516.1" stroke="#e9b262"/><path d="M213.7 516.1 L215.4 516.4 L217.2 518.8" stroke="#e9b363"/><path d="M217.2 518.8 L218.9 519.0 L220.7 519.7 L222.4 520.3 L224.2 520.7" stroke="#e9b464"/><path d="M224.2 520.7 L225.9 521.4 L227.7 522.5 L229.5 522.4 L231.2 522.3 L233.0 523.2 L234.7 523.0 L236.5 523.6 L238.2 523.2 L240.0 523.5 L241.7 523.5 L243.3 522.9 L245.0 522.0 L246.6 522.3 L248.2 523.4 L249.8 525.1 L251.4 525.5 L253.2 525.1 L254.9 525.3 L256.6 524.3 L258.4 523.5 L260.1 523.8 L261.9 523.6 L263.6 522.6 L265.4 522.5 L267.0 522.0 L268.6 522.3 L270.3 523.0 L271.9 522.8 L273.5 522.1 L275.1 522.2 L276.8 522.1 L278.4 522.0 L280.0 522.8 L281.6 522.1 L283.3 522.6 L284.9 522.4 L286.5 522.2 L288.1 522.8 L289.8 522.1 L291.4 522.7 L293.0 522.1 L294.6 522.4 L296.3 522.2 L297.9 522.2 L299.5 523.0 L301.1 522.8 L302.8 522.3 L304.4 522.9 L306.0 522.5 L307.7 522.8 L309.3 523.7 L311.0 524.5 L312.9 524.4 L314.8 523.7 L316.7 522.6 L318.6 522.5 L320.2 523.0 L321.9 522.2 L323.5 522.2 L325.1 522.8 L326.7 522.3 L328.4 522.3 L330.0 522.0 L331.6 522.0 L333.3 522.6 L334.9 522.2 L336.5 522.6 L338.1 522.4 L339.8 522.4 L341.4 522.5 L343.1 522.2 L344.8 520.8" stroke="#e9b565"/><path d="M344.8 520.8 L346.5 520.0 L348.2 519.5 L349.9 517.9" stroke="#e9b464"/><path d="M349.9 517.9 L351.6 517.4 L353.3 515.8 L355.0 516.6" stroke="#e9b363"/><path d="M355.0 516.6 L356.7 514.8" stroke="#e9b262"/><path d="M356.7 514.8 L358.7 502.2" stroke="#e9af5f"/><path d="M358.7 502.2 L360.9 496.5" stroke="#e9ac5c"/><path d="M360.9 496.5 L363.0 489.5" stroke="#e9a95c"/><path d="M363.0 489.5 L364.9 487.7" stroke="#e8a75c"/><path d="M364.9 487.7 L366.8 487.0" stroke="#e8a65c"/><path d="M366.8 487.0 L368.7 480.0" stroke="#e8a45c"/><path d="M368.7 480.0 L370.6 474.3" stroke="#e8a15b"/><path d="M370.6 474.3 L373.0 464.0" stroke="#e69557"/><path d="M373.0 464.0 L375.7 450.2 L378.2 464.0" stroke="#e07c45"/><path d="M378.2 464.0 L380.1 455.7" stroke="#e18249"/><path d="M380.1 455.7 L382.0 446.4" stroke="#dd703e"/><path d="M382.0 446.4 L383.9 443.6" stroke="#da6538"/><path d="M383.9 443.6 L385.8 438.8" stroke="#d86035"/><path d="M385.8 438.8 L388.4 440.0" stroke="#d75e34"/><path d="M388.4 440.0 L390.0 451.4" stroke="#da6538"/><path d="M390.0 451.4 L391.7 431.2" stroke="#d75f35"/><path d="M391.7 431.2 L394.2 436.2" stroke="#d45832"/><path d="M394.2 436.2 L396.0 423.5" stroke="#d25430"/><path d="M396.0 423.5 L398.5 441.3" stroke="#d35631"/><path d="M398.5 441.3 L401.5 422.3" stroke="#d25631"/><path d="M401.5 422.3 L403.6 440.0" stroke="#d25531"/><path d="M403.6 440.0 L406.0 428.6" stroke="#d45932"/><path d="M406.0 428.6 L407.7 442.5" stroke="#d55a33"/><path d="M407.7 442.5 L409.4 457.8" stroke="#dc6e3d"/><path d="M409.4 457.8 L412.5 426.0" stroke="#d75f35"/><path d="M412.5 426.0 L414.4 430.8" stroke="#d15330"/><path d="M414.4 430.8 L416.3 433.7" stroke="#d35731"/><path d="M416.3 433.7 L418.8 424.8" stroke="#d15430"/><path d="M418.8 424.8 L420.6 413.4" stroke="#cc4b2f"/><path d="M420.6 413.4 L422.6 404.5" stroke="#c6422e"/><path d="M422.6 404.5 L425.0 416.0" stroke="#c7432e"/><path d="M425.0 416.0 L427.7 391.8" stroke="#c33e2e"/><path d="M427.7 391.8 L430.7 441.3" stroke="#c9472e"/><path d="M430.7 441.3 L432.8 421.8" stroke="#d25531"/><path d="M432.8 421.8 L434.8 400.7" stroke="#c7442e"/><path d="M434.8 400.7 L436.9 402.8" stroke="#c23d2e"/><path d="M436.9 402.8 L439.0 404.5" stroke="#c33e2e"/><path d="M439.0 404.5 L442.0 447.6" stroke="#cf4f2f"/><path d="M442.0 447.6 L445.0 393.0" stroke="#cb4a2f"/><path d="M445.0 393.0 L446.7 385.5" stroke="#bb352c"/><path d="M446.7 385.5 L449.2 395.6" stroke="#bc362c"/><path d="M449.2 395.6 L452.3 437.6" stroke="#ca472e"/><path d="M452.3 437.6 L455.4 369.2" stroke="#c13c2d"/><path d="M455.4 369.2 L457.3 379.8" stroke="#b52d2a"/><path d="M457.3 379.8 L459.2 390.7" stroke="#b9322b"/><path d="M459.2 390.7 L461.0 398.3" stroke="#be382d"/><path d="M461.0 398.3 L463.0 425.0" stroke="#c7442e"/><path d="M463.0 425.0 L465.5 378.0" stroke="#c13b2d"/><path d="M465.5 378.0 L468.0 367.9" stroke="#b42c29"/><path d="M468.0 367.9 L470.6 383.0" stroke="#b52d2a"/><path d="M470.6 383.0 L473.0 427.5" stroke="#c33e2e"/><path d="M473.0 427.5 L476.2 384.4" stroke="#c43e2e"/><path d="M476.2 384.4 L477.9 393.0" stroke="#bb342c"/><path d="M477.9 393.0 L479.5 403.4" stroke="#c03b2d"/><path d="M479.5 403.4 L481.6 415.7" stroke="#c6432e"/><path d="M481.6 415.7 L483.8 430.0" stroke="#ce4e2f"/><path d="M483.8 430.0 L487.0 393.3" stroke="#c7432e"/><path d="M487.0 393.3 L489.6 389.5" stroke="#bd362c"/><path d="M489.6 389.5 L492.0 371.7" stroke="#b7302b"/><path d="M492.0 371.7 L493.4 375.5" stroke="#b42d2a"/><path d="M493.4 375.5 L495.2 416.0" stroke="#be382c"/><path d="M495.2 416.0 L496.7 364.0" stroke="#ba342c"/><path d="M496.7 364.0 L499.7 378.0" stroke="#b32c29"/><path d="M499.7 378.0 L501.6 393.0" stroke="#b9322b"/><path d="M501.6 393.0 L503.5 406.0" stroke="#c13b2d"/><path d="M503.5 406.0 L505.6 427.5" stroke="#ca482f"/><path d="M505.6 427.5 L507.9 398.3" stroke="#c8452e"/><path d="M507.9 398.3 L510.6 421.2" stroke="#c6422e"/><path d="M510.6 421.2 L513.7 460.5" stroke="#d75e34"/><path d="M513.7 460.5 L516.7 428.8" stroke="#d96236"/><path d="M516.7 428.8 L518.4 428.8" stroke="#d15430"/><path d="M518.4 428.8 L520.0 430.0" stroke="#d25430"/><path d="M520.0 430.0 L521.6 438.7" stroke="#d45932"/><path d="M521.6 438.7 L523.3 446.5" stroke="#d86135"/><path d="M523.3 446.5 L525.9 431.3" stroke="#d65d34"/><path d="M525.9 431.3 L527.6 442.7" stroke="#d55b33"/><path d="M527.6 442.7 L529.4 412.3" stroke="#d0512f"/><path d="M529.4 412.3 L531.4 423.7" stroke="#cb4a2f"/><path d="M531.4 423.7 L534.0 451.6" stroke="#d55b33"/><path d="M534.0 451.6 L535.7 467.5" stroke="#e18148"/><path d="M535.7 467.5 L537.3 484.4" stroke="#e79e5b"/><path d="M537.3 484.4 L538.2 484.4" stroke="#e8a55c"/><path d="M538.2 484.4 L538.8 464.6" stroke="#e79c5a"/><path d="M538.8 464.6 L540.4 464.6" stroke="#e48d51"/><path d="M540.4 464.6 L542.4 479.3" stroke="#e69959"/><path d="M542.4 479.3 L543.4 479.3" stroke="#e8a35c"/><path d="M543.4 479.3 L543.8 472.2" stroke="#e79f5b"/><path d="M543.8 472.2 L545.4 472.2" stroke="#e79b59"/><path d="M545.4 472.2 L548.2 494.5" stroke="#e8a45c"/><path d="M548.2 494.5 L549.2 494.5" stroke="#e9aa5c"/><path d="M549.2 494.5 L550.9 477.3" stroke="#e8a55c"/><path d="M550.9 477.3 L552.5 477.3" stroke="#e8a15c"/><path d="M552.5 477.3 L554.4 489.8" stroke="#e8a45c"/><path d="M554.4 489.8 L556.3 500.8" stroke="#e9aa5c"/><path d="M556.3 500.8 L557.2 500.8 L558.9 497.8" stroke="#e9ac5c"/><path d="M558.9 497.8 L560.6 494.0" stroke="#e9aa5c"/><path d="M560.6 494.0 L562.2 491.3" stroke="#e9a95c"/><path d="M562.2 491.3 L563.8 491.3" stroke="#e9a85c"/><path d="M563.8 491.3 L565.5 495.4" stroke="#e9a95c"/><path d="M565.5 495.4 L567.3 501.5" stroke="#e9ab5c"/><path d="M567.3 501.5 L569.0 505.8" stroke="#e9ad5d"/><path d="M569.0 505.8 L570.0 505.8" stroke="#e9ae5e"/><path d="M570.0 505.8 L572.5 492.5" stroke="#e9ab5c"/><path d="M572.5 492.5 L574.1 492.5 L576.2 496.5" stroke="#e9a95c"/><path d="M576.2 496.5 L578.4 502.3" stroke="#e9ac5c"/><path d="M578.4 502.3 L580.4 508.5" stroke="#e9ae5e"/><path d="M580.4 508.5 L581.4 508.5" stroke="#e9af5f"/><path d="M581.4 508.5 L583.2 495.0" stroke="#e9ac5c"/><path d="M583.2 495.0 L584.8 495.0 L586.6 496.8" stroke="#e9aa5c"/><path d="M586.6 496.8 L588.5 499.8" stroke="#e9ab5c"/><path d="M588.5 499.8 L590.0 511.0" stroke="#e9ae5e"/><path d="M590.0 511.0 L591.0 511.0 L592.9 508.6" stroke="#e9b060"/><path d="M592.9 508.6 L594.8 506.0" stroke="#e9af5f"/><path d="M594.8 506.0 L597.9 493.7" stroke="#e9ac5c"/><path d="M597.9 493.7 L599.5 493.7" stroke="#e9a95c"/><path d="M599.5 493.7 L602.0 507.2" stroke="#e9ac5c"/><path d="M602.0 507.2 L603.0 507.2" stroke="#e9af5f"/><path d="M603.0 507.2 L604.2 492.5" stroke="#e9ac5c"/><path d="M604.2 492.5 L605.8 492.5" stroke="#e9a95c"/><path d="M605.8 492.5 L607.5 500.3" stroke="#e9aa5c"/><path d="M607.5 500.3 L609.2 506.8" stroke="#e9ad5d"/><path d="M609.2 506.8 L610.8 513.5" stroke="#e9b060"/><path d="M610.8 513.5 L611.8 513.5" stroke="#e9b262"/><path d="M611.8 513.5 L613.4 508.8" stroke="#e9b060"/><path d="M613.4 508.8 L615.0 505.0" stroke="#e9af5f"/><path d="M615.0 505.0 L618.1 497.5" stroke="#e9ac5c"/><path d="M618.1 497.5 L619.7 497.5" stroke="#e9ab5c"/><path d="M619.7 497.5 L622.2 509.8" stroke="#e9ad5d"/><path d="M622.2 509.8 L623.2 509.8" stroke="#e9b060"/><path d="M623.2 509.8 L624.9 496.3" stroke="#e9ad5d"/><path d="M624.9 496.3 L626.5 496.3" stroke="#e9aa5c"/><path d="M626.5 496.3 L628.4 501.5" stroke="#e9ab5c"/><path d="M628.4 501.5 L630.3 504.8" stroke="#e9ad5d"/><path d="M630.3 504.8 L632.8 514.8" stroke="#e9b060"/><path d="M632.8 514.8 L633.8 514.8" stroke="#e9b262"/><path d="M633.8 514.8 L636.6 499.8" stroke="#e9af5f"/><path d="M636.6 499.8 L638.8 498.6" stroke="#e9ac5c"/><path d="M638.8 498.6 L640.9 498.8 L642.5 498.8" stroke="#e9ab5c"/><path d="M642.5 498.8 L644.5 509.8" stroke="#e9ae5e"/><path d="M644.5 509.8 L645.5 509.8" stroke="#e9b060"/><path d="M645.5 509.8 L647.2 491.3" stroke="#e9ac5c"/><path d="M647.2 491.3 L648.8 491.3 L650.9 493.2" stroke="#e9a85c"/><path d="M650.9 493.2 L653.0 497.2" stroke="#e9aa5c"/><path d="M653.0 497.2 L654.7 499.8" stroke="#e9ab5c"/><path d="M654.7 499.8 L656.4 503.4 L657.4 503.4" stroke="#e9ad5d"/><path d="M657.4 503.4 L658.7 486.1" stroke="#e9a95c"/><path d="M658.7 486.1 L660.3 486.1" stroke="#e8a65c"/><path d="M660.3 486.1 L662.2 492.1" stroke="#e8a75c"/><path d="M662.2 492.1 L664.0 498.3" stroke="#e9aa5c"/><path d="M664.0 498.3 L665.0 498.3" stroke="#e9ab5c"/><path d="M665.0 498.3 L667.8 489.6" stroke="#e9a95c"/><path d="M667.8 489.6 L670.8 477.3" stroke="#e8a45c"/><path d="M670.8 477.3 L672.4 477.3" stroke="#e8a15c"/><path d="M672.4 477.3 L674.9 490.8" stroke="#e8a45c"/><path d="M674.9 490.8 L675.9 490.8" stroke="#e9a85c"/><path d="M675.9 490.8 L677.8 487.9" stroke="#e9a75c"/><path d="M677.8 487.9 L679.7 487.0" stroke="#e8a65c"/><path d="M679.7 487.0 L681.6 484.4 L683.5 483.3" stroke="#e8a55c"/><path d="M683.5 483.3 L685.8 478.5" stroke="#e8a35c"/><path d="M685.8 478.5 L687.4 478.5" stroke="#e8a25c"/><path d="M687.4 478.5 L688.1 497.0" stroke="#e8a65c"/><path d="M688.1 497.0 L689.1 497.0" stroke="#e9ab5c"/><path d="M689.1 497.0 L690.4 468.3" stroke="#e8a35c"/><path d="M690.4 468.3 L692.0 468.3" stroke="#e59556"/><path d="M692.0 468.3 L693.7 469.3" stroke="#e69657"/><path d="M693.7 469.3 L695.8 481.0" stroke="#e79e5a"/><path d="M695.8 481.0 L697.8 493.2" stroke="#e8a65c"/><path d="M697.8 493.2 L698.8 493.2" stroke="#e9a95c"/><path d="M698.8 493.2 L701.0 485.3" stroke="#e8a75c"/><path d="M701.0 485.3 L703.3 477.0" stroke="#e8a35c"/><path d="M703.3 477.0 L705.0 475.7" stroke="#e8a05b"/><path d="M705.0 475.7 L706.8 476.0" stroke="#e79f5b"/><path d="M706.8 476.0 L708.4 476.0" stroke="#e89f5b"/><path d="M708.4 476.0 L710.5 479.3" stroke="#e8a15c"/><path d="M710.5 479.3 L711.5 479.3" stroke="#e8a35c"/><path d="M711.5 479.3 L712.7 455.7" stroke="#e59153"/><path d="M712.7 455.7 L714.3 455.7" stroke="#e07b44"/><path d="M714.3 455.7 L714.8 474.2" stroke="#e48c50"/><path d="M714.8 474.2 L715.8 474.2" stroke="#e79d5a"/><path d="M715.8 474.2 L716.2 459.5" stroke="#e49053"/><path d="M716.2 459.5 L717.8 459.5" stroke="#e1824a"/><path d="M717.8 459.5 L719.8 490.8" stroke="#e79c5a"/><path d="M719.8 490.8 L720.8 490.8" stroke="#e9a85c"/><path d="M720.8 490.8 L722.1 465.8" stroke="#e8a15c"/><path d="M722.1 465.8 L723.7 465.8" stroke="#e49053"/><path d="M723.7 465.8 L725.4 477.0" stroke="#e69959"/><path d="M725.4 477.0 L728.2 493.2" stroke="#e8a55c"/><path d="M728.2 493.2 L729.2 493.2" stroke="#e9a95c"/><path d="M729.2 493.2 L731.7 482.0" stroke="#e8a65c"/><path d="M731.7 482.0 L734.0 467.1" stroke="#e79d5a"/><path d="M734.0 467.1 L735.6 467.1" stroke="#e59255"/><path d="M735.6 467.1 L736.8 469.3" stroke="#e59456"/><path d="M736.8 469.3 L738.3 480.6" stroke="#e79d5a"/><path d="M738.3 480.6 L739.2 480.6" stroke="#e8a35c"/><path d="M739.2 480.6 L739.8 458.3" stroke="#e69556"/><path d="M739.8 458.3 L741.4 458.3" stroke="#e18048"/><path d="M741.4 458.3 L743.0 474.4" stroke="#e48f52"/><path d="M743.0 474.4 L744.8 474.6" stroke="#e79e5a"/><path d="M744.8 474.6 L746.5 475.5" stroke="#e79e5b"/><path d="M746.5 475.5 L747.5 475.5" stroke="#e79f5b"/><path d="M747.5 475.5 L750.0 469.3" stroke="#e79a59"/><path d="M750.0 469.3 L752.0 451.6" stroke="#e1834a"/><path d="M752.0 451.6 L754.6 423.7" stroke="#d55b33"/><path d="M754.6 423.7 L756.6 398.3" stroke="#c7432e"/><path d="M756.6 398.3 L758.4 374.2" stroke="#b9322b"/></g>
<circle cx="142.6" cy="394.8" r="6" fill="#a52525"/><circle cx="497" cy="362.8" r="6" fill="#a52525"/><circle cx="758.6" cy="373.8" r="6" fill="#a52525"/>
<g font-weight="700" font-size="21.7" fill="#20212f" text-anchor="middle">
<text x="142.4" y="381.6">6 703</text><text x="496.6" y="349.6">8 203</text><text x="759.4" y="359.5">7 704</text>
<text x="536.7" y="575.6">84</text><text x="758.9" y="579.2">69</text></g>
<g font-size="19" fill="#2b2b2b"><text x="87.7" y="632" textLength="35.2" lengthAdjust="spacingAndGlyphs">АПР</text><text x="134.1" y="632" textLength="40.6" lengthAdjust="spacingAndGlyphs">МАЙ</text><text x="182.0" y="632" textLength="42.3" lengthAdjust="spacingAndGlyphs">ИЮН</text><text x="227.5" y="632" textLength="41.3" lengthAdjust="spacingAndGlyphs">ИЮЛ</text><text x="274.8" y="632" textLength="33.0" lengthAdjust="spacingAndGlyphs">АВГ</text><text x="323.0" y="632" textLength="34.4" lengthAdjust="spacingAndGlyphs">СЕН</text><text x="368.4" y="632" textLength="34.9" lengthAdjust="spacingAndGlyphs">ОКТ</text><text x="417.0" y="632" textLength="36.0" lengthAdjust="spacingAndGlyphs">НОЯ</text><text x="461.8" y="632" textLength="34.8" lengthAdjust="spacingAndGlyphs">ДЕК</text><text x="510.0" y="632" textLength="34.0" lengthAdjust="spacingAndGlyphs">ЯНВ</text><text x="557.0" y="632" textLength="36.0" lengthAdjust="spacingAndGlyphs">ФЕВ</text><text x="600.5" y="632" textLength="37.2" lengthAdjust="spacingAndGlyphs">МАР</text><text x="648.8" y="632" textLength="33.8" lengthAdjust="spacingAndGlyphs">АПР</text><text x="693.7" y="632" textLength="39.6" lengthAdjust="spacingAndGlyphs">МАЙ</text><text x="742.0" y="632" textLength="42.0" lengthAdjust="spacingAndGlyphs">ИЮН</text></g>
</svg>

<div class="abs ttl" style="top:668px"><span style="letter-spacing:0.74px">Число новых заражений</span><br><span style="letter-spacing:0.34px">в последние две недели, тыс.,</span><br><span style="letter-spacing:1.2px">Москва</span></div>
<div class="abs logo" style="left:642.9px;top:661.5px">Яндекс</div>

<svg class="abs" style="left:0;top:820px" width="828" height="200" viewBox="0 820 828 200">
<rect x="55.2" y="927.3" width="45.4" height="43.7" fill="#f9d880"/><text x="64.7" y="915.8" textLength="26.6" lengthAdjust="spacingAndGlyphs" font-size="21" fill="#1c1c1c" stroke="#1c1c1c" stroke-width="0.25">2,6</text><rect x="106.9" y="910.1" width="45.4" height="60.9" fill="#f2b05c"/><text x="116.4" y="898.6" textLength="26.6" lengthAdjust="spacingAndGlyphs" font-size="21" fill="#1c1c1c" stroke="#1c1c1c" stroke-width="0.25">3,7</text><text x="129.6" y="994" text-anchor="middle" font-size="18.6" fill="#2b2b2b">1</text><rect x="158.6" y="923.4" width="45.4" height="47.6" fill="#f9d880"/><text x="168.1" y="911.9" textLength="26.6" lengthAdjust="spacingAndGlyphs" font-size="21" fill="#1c1c1c" stroke="#1c1c1c" stroke-width="0.25">2,8</text><text x="181.3" y="994" text-anchor="middle" font-size="18.6" fill="#2b2b2b">2</text><rect x="210.4" y="921.8" width="45.4" height="49.2" fill="#f9d880"/><text x="219.9" y="910.3" textLength="26.6" lengthAdjust="spacingAndGlyphs" font-size="21" fill="#1c1c1c" stroke="#1c1c1c" stroke-width="0.25">2,9</text><text x="233.1" y="994" text-anchor="middle" font-size="18.6" fill="#2b2b2b">3</text><rect x="262.1" y="923.3" width="45.4" height="47.7" fill="#f9d880"/><text x="271.6" y="911.8" textLength="26.6" lengthAdjust="spacingAndGlyphs" font-size="21" fill="#1c1c1c" stroke="#1c1c1c" stroke-width="0.25">2,8</text><text x="284.8" y="994" text-anchor="middle" font-size="18.6" fill="#2b2b2b">4</text><rect x="313.8" y="921.8" width="45.4" height="49.2" fill="#f9d880"/><text x="323.3" y="910.3" textLength="26.6" lengthAdjust="spacingAndGlyphs" font-size="21" fill="#1c1c1c" stroke="#1c1c1c" stroke-width="0.25">2,9</text><text x="336.5" y="994" text-anchor="middle" font-size="18.6" fill="#c9483a">5</text><rect x="365.5" y="921.3" width="45.4" height="49.7" fill="#f9d880"/><text x="375.0" y="909.8" textLength="26.6" lengthAdjust="spacingAndGlyphs" font-size="21" fill="#1c1c1c" stroke="#1c1c1c" stroke-width="0.25">2,9</text><text x="388.2" y="994" text-anchor="middle" font-size="18.6" fill="#c9483a">6</text><rect x="417.2" y="916.8" width="45.4" height="54.2" fill="#f6cb72"/><text x="426.7" y="905.3" textLength="26.6" lengthAdjust="spacingAndGlyphs" font-size="21" fill="#1c1c1c" stroke="#1c1c1c" stroke-width="0.25">3,3</text><text x="439.9" y="994" text-anchor="middle" font-size="18.6" fill="#2b2b2b">7</text><rect x="469.0" y="907.5" width="45.4" height="63.5" fill="#f3b55f"/><text x="478.5" y="896.0" textLength="26.6" lengthAdjust="spacingAndGlyphs" font-size="21" fill="#1c1c1c" stroke="#1c1c1c" stroke-width="0.25">3,8</text><text x="491.7" y="994" text-anchor="middle" font-size="18.6" fill="#2b2b2b">8</text><rect x="520.7" y="902.9" width="45.4" height="68.1" fill="#f1a657"/><text x="530.2" y="891.4" textLength="26.6" lengthAdjust="spacingAndGlyphs" font-size="21" fill="#1c1c1c" stroke="#1c1c1c" stroke-width="0.25">4,1</text><text x="543.4" y="994" text-anchor="middle" font-size="18.6" fill="#2b2b2b">9</text><rect x="572.4" y="884.6" width="45.4" height="86.4" fill="#ee7d47"/><text x="581.9" y="873.1" textLength="26.6" lengthAdjust="spacingAndGlyphs" font-size="21" fill="#1c1c1c" stroke="#1c1c1c" stroke-width="0.25">5,2</text><text x="595.1" y="994" text-anchor="middle" font-size="18.6" fill="#2b2b2b">10</text><rect x="624.1" y="875.0" width="45.4" height="96.0" fill="#e85c3a"/><text x="633.6" y="863.5" textLength="26.6" lengthAdjust="spacingAndGlyphs" font-size="21" fill="#1c1c1c" stroke="#1c1c1c" stroke-width="0.25">5,9</text><text x="646.8" y="994" text-anchor="middle" font-size="18.6" fill="#2b2b2b">11</text><rect x="675.8" y="861.1" width="45.4" height="109.9" fill="#d3322c"/><text x="685.3" y="849.6" textLength="26.6" lengthAdjust="spacingAndGlyphs" font-size="21" fill="#1c1c1c" stroke="#1c1c1c" stroke-width="0.25">6,7</text><text x="698.5" y="994" text-anchor="middle" font-size="18.6" fill="#c9483a">12</text><rect x="727.6" y="844.9" width="45.4" height="126.1" fill="#c8737e"/><text x="737.1" y="833.4" textLength="26.6" lengthAdjust="spacingAndGlyphs" font-size="21" font-weight="700" fill="#1c1c1c" stroke="#1c1c1c" stroke-width="0.25">7,7</text>
<rect x="32" y="969.8" width="764" height="2.2" fill="#000"/>
<text x="32" y="993.8" font-size="18.6" fill="#2b2b2b" textLength="39" lengthAdjust="spacingAndGlyphs">МАЯ</text>
<text x="753" y="993.8" font-size="18.6" fill="#2b2b2b" textLength="42.6" lengthAdjust="spacingAndGlyphs">ИЮН</text>
</svg>

<div class="abs seg"><div class="abs on t">Заражения</div><div class="abs t" style="left:382px;top:4px;width:378px;color:#26262e">Смерти</div></div>
<div class="abs foot"><span style="letter-spacing:0.83px">По данным сайта </span><a style="letter-spacing:1.48px">стопкоронавирус.рф</a><span style="letter-spacing:1.11px">, Университета Джонса</span><br><span style="letter-spacing:1.12px">Хопкинса и проекта Our World in Data. &nbsp;</span><a style="letter-spacing:0.79px;margin-left:-2.2px">Больше данных на</a><br><a>DataLens.</a></div>
</body></html>
